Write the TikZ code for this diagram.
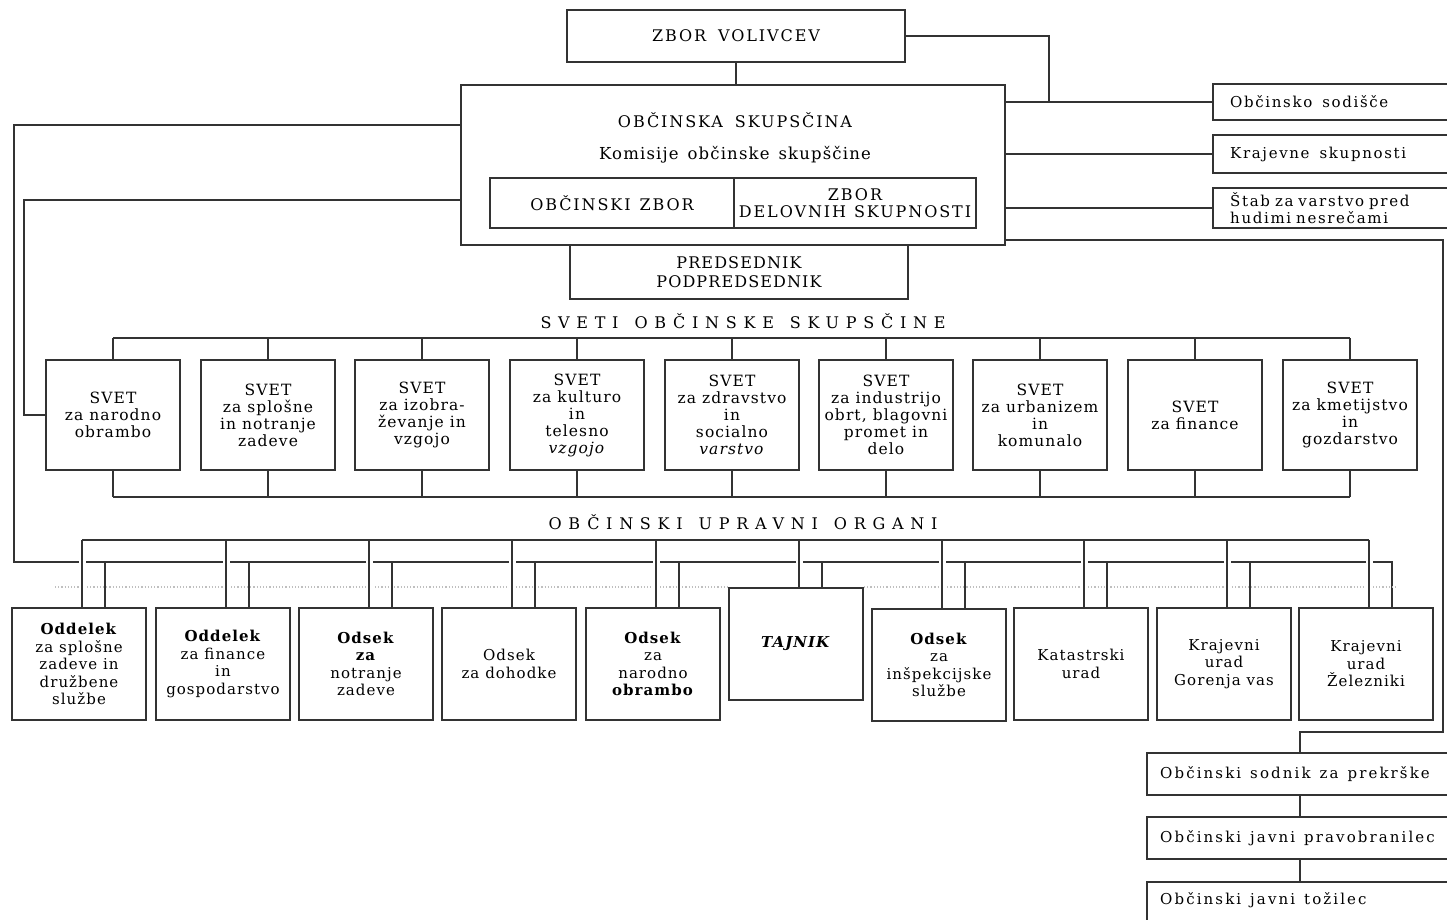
\documentclass[tikz,border=0pt]{standalone}
\usepackage{fontspec}
\setmainfont{DejaVu Serif}[LetterSpace=7]
\newfontfamily\capsfont{DejaVu Serif}[LetterSpace=12]
\newfontfamily\widefont{DejaVu Serif}[LetterSpace=42]
\newfontfamily\sidefont{DejaVu Serif}[LetterSpace=11]
\newfontfamily\lowfont{DejaVu Serif}[LetterSpace=14]
\usetikzlibrary{calc}
\pgfdeclarelayer{bg}
\pgfsetlayers{bg,main}
\begin{document}
\begin{tikzpicture}[x=1pt,y=-1pt,
  ln/.style={line width=2pt, draw=black!80, line cap=butt},
  boxn/.style={ln, rectangle, inner sep=0pt, align=center, text=black},
  gapline/.style={ln, preaction={draw=white, line width=7pt}},
  svet/.style={boxn, minimum width=134pt, minimum height=110pt, font=\fontsize{15.5}{17}\selectfont},
  org/.style={boxn, minimum width=134pt, minimum height=112pt, font=\fontsize{15}{17.5}\selectfont},
  openbox/.style={rectangle, inner ysep=0pt, align=left, anchor=west, text=black},
  lbl/.style={text=black, inner sep=0pt},
]
\useasboundingbox (0,0) rectangle (1447,920);

% ---------- top ----------
\node[boxn, minimum width=338pt, minimum height=52pt, font={\capsfont\fontsize{16}{18}\selectfont}] (zv) at (736,36) {ZBOR\hspace{12pt}VOLIVCEV};
\node[boxn, minimum width=544pt, minimum height=160pt] (sk) at (733,165) {};
\node[lbl, font={\capsfont\fontsize{16}{18}\selectfont}] (skt) at (735,120) {OBČINSKA\hspace{12pt}SKUPSČINA};
\node[lbl, font={\fontsize{16.5}{18}\selectfont}] (kom) at (735,155) {Komisije\hspace{9pt}občinske\hspace{9pt}skupščine};
\node[boxn, minimum width=244pt, minimum height=50pt, font={\capsfont\fontsize{16}{18}\selectfont}] (oz) at (612,203) {OBČINSKI\hspace{9pt}ZBOR};
\node[boxn, minimum width=242pt, minimum height=50pt, font={\capsfont\fontsize{16}{17.5}\selectfont}] (zd) at (855,203) {ZBOR\\DELOVNIH\hspace{8pt}SKUPNOSTI};
\node[boxn, minimum width=338pt, minimum height=54pt, font={\fontsize{16}{19}\selectfont}] (pr) at (739,272) {PREDSEDNIK\\PODPREDSEDNIK};

% ---------- side boxes (open to the right) ----------
\node[openbox, font={\sidefont\fontsize{15}{17}\selectfont}, text width=200pt, inner xsep=17pt, minimum height=36pt] (os) at (1213,102) {Občinsko\hspace{10pt}sodišče};
\node[openbox, font={\sidefont\fontsize{15}{17}\selectfont}, text width=200pt, inner xsep=17pt, minimum height=38pt] (ks) at (1213,154) {Krajevne\hspace{10pt}skupnosti};
\node[openbox, font={\sidefont\fontsize{15}{17}\selectfont}, text width=200pt, inner xsep=17pt, minimum height=40pt] (st) at (1213,208) {Štab za varstvo pred\\hudimi nesrečami};
\foreach \n in {os,ks,st}
  \draw[ln] (\n.north east) -- (\n.north west) -- (\n.south west) -- (\n.south east);

\node[openbox, font={\lowfont\fontsize{15}{17}\selectfont}, text width=280pt, inner xsep=13pt, minimum height=42pt] (c1) at (1147,774) {Občinski\hspace{9pt}sodnik\hspace{9pt}za\hspace{9pt}prekrške};
\node[openbox, font={\lowfont\fontsize{15}{17}\selectfont}, text width=280pt, inner xsep=13pt, minimum height=42pt] (c2) at (1147,838) {Občinski\hspace{9pt}javni\hspace{9pt}pravobranilec};
\node[openbox, font={\lowfont\fontsize{15}{17}\selectfont}, text width=280pt, inner xsep=13pt, minimum height=36pt] (c3) at (1147,900) {Občinski\hspace{9pt}javni\hspace{9pt}tožilec};
\foreach \n in {c1,c2}
  \draw[ln] (\n.north east) -- (\n.north west) -- (\n.south west) -- (\n.south east);
\draw[ln] (c3.north east) -- (c3.north west) -- ++(0,45);

% ---------- labels ----------
\node[lbl, font={\widefont\fontsize{16}{18}\selectfont}] (lsv) at (743,321) {SVETI\hspace{16pt}OBČINSKE\hspace{16pt}SKUPSČINE};
\node[lbl, font={\widefont\fontsize{16}{18}\selectfont}] (luo) at (743,522) {OBČINSKI\hspace{16pt}UPRAVNI\hspace{16pt}ORGANI};

% ---------- sveti ----------
\node[svet] (s1) at (113,415) {SVET\\za narodno\\obrambo};
\node[svet] (s2) at (268,415) {SVET\\za splošne\\in notranje\\zadeve};
\node[svet] (s3) at (422,415) {SVET\\za izobra-\\ževanje in\\vzgojo};
\node[svet] (s4) at (577,415) {SVET\\za kulturo\\in\\telesno\\\textit{vzgojo}};
\node[svet] (s5) at (732,415) {SVET\\za zdravstvo\\in\\socialno\\\textit{varstvo}};
\node[svet] (s6) at (886,415) {SVET\\za industrijo\\obrt, blagovni\\promet in\\delo};
\node[svet] (s7) at (1040,415) {SVET\\za urbanizem\\in\\komunalo};
\node[svet] (s8) at (1195,415) {SVET\\za finance};
\node[svet] (s9) at (1350,415) {SVET\\za kmetijstvo\\in\\gozdarstvo};

% ---------- upravni organi ----------
\node[org] (o1) at (79,664) {\textbf{Oddelek}\\za splošne\\zadeve in\\družbene\\službe};
\node[org] (o2) at (223,664) {\textbf{Oddelek}\\za finance\\in\\gospodarstvo};
\node[org] (o3) at (366,664) {\textbf{Odsek}\\\textbf{za}\\notranje\\zadeve};
\node[org] (o4) at (509,664) {Odsek\\za dohodke};
\node[org] (o5) at (653,664) {\textbf{Odsek}\\za\\narodno\\\textbf{obrambo}};
\node[org] (o6) at (796,644) {\textbf{\textit{TAJNIK}}};
\node[org] (o7) at (939,665) {\textbf{Odsek}\\za\\inšpekcijske\\službe};
\node[org] (o8) at (1081,664) {Katastrski\\urad};
\node[org] (o9) at (1224,664) {Krajevni\\urad\\Gorenja vas};
\node[org] (o10) at (1366,664) {Krajevni\\urad\\Železniki};

% ---------- connectors ----------
\begin{pgfonlayer}{bg}
\fill[white] (0,0) rectangle (1447,920);
\draw[ln] (zv.south) -- (zv.south |- sk.north);
\draw[ln] (zv.east) -| ($(sk.east |- os.west)+(43,0)$);
\draw[ln] (sk.east |- os.west) -- (os.west);
\draw[ln] (sk.east |- ks.west) -- (ks.west);
\draw[ln] (sk.east |- st.west) -- (st.west);
\coordinate (re) at (1443,240);
\draw[ln] (sk.east |- re) -- (re) |- ($(c1.north)+(0,-21)$) -- (c1.north);
\draw[ln] (c1.south) -- (c2.north);
\draw[ln] (c2.south) -- (c3.north);
% to svet za narodno obrambo
\draw[ln] ([yshift=-35pt]sk.west) -| ($(s1.west)+(-21,0)$) -- (s1.west);
% svet buses
\coordinate (stop) at (0,338);
\coordinate (sbot) at (0,497);
\draw[ln] (s1.north |- stop) -- (s9.north |- stop);
\draw[ln] (s1.south |- sbot) -- (s9.south |- sbot);
\foreach \i in {1,...,9} {
  \draw[ln] (s\i.north) -- (s\i.north |- stop);
  \draw[ln] (s\i.south) -- (s\i.south |- sbot);
}
% organ buses
\coordinate (busA) at (0,540);
\coordinate (busB) at (0,562);
\foreach \i in {1,...,10} {
  \coordinate (L\i) at ($(o\i.north)+(3,0)$);
  \coordinate (S\i) at ($(o\i.north)+(26,0)$);
}
\coordinate (lx) at (14,562);
\draw[ln] ([yshift=40pt]sk.west) -| (lx) -- (S10 |- busB) -- (S10);
\coordinate (dl) at (55,587);
\coordinate (dr) at (1396,587);
\draw[dotted, line width=1.2pt, black!25] (dl) -- (o6.west |- dl);
\draw[dotted, line width=1.2pt, black!25] (o6.east |- dl) -- (dr);
\foreach \i in {1,...,9}
  \draw[ln] (S\i |- busB) -- (S\i);
\foreach \i in {1,...,10}
  \draw[gapline] (L\i |- busA) -- (L\i);
\draw[ln] (L1 |- busA) -- (L10 |- busA);
\end{pgfonlayer}
\end{tikzpicture}
\end{document}
